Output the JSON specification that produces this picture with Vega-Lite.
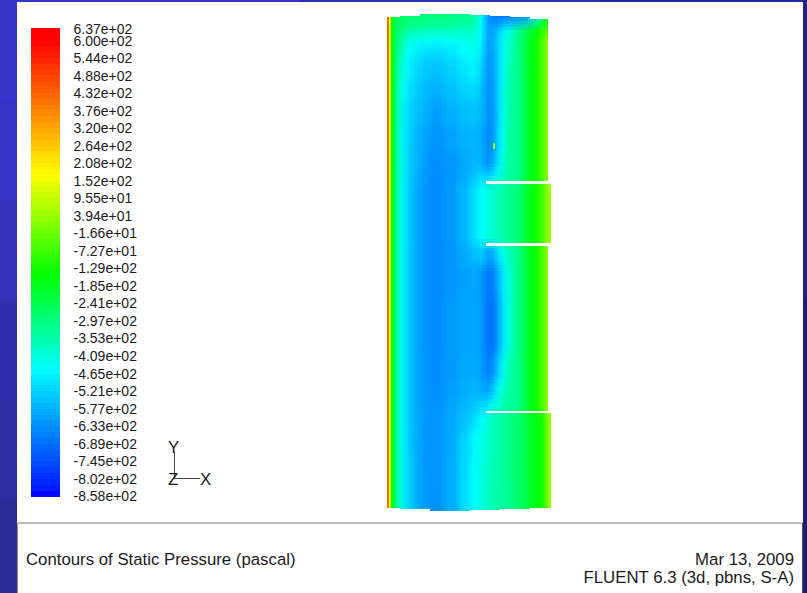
{"$schema":"https://vega.github.io/schema/vega-lite/v6.json","width":807,"height":593,"padding":0,"autosize":{"type":"none"},"background":"#ffffff","config":{"view":{"stroke":null}},
"datasets":{
"frame":[{"x":0,"x2":17,"y":0,"y2":100,"shade":"#3636cf"},{"x":0,"x2":17,"y":100,"y2":200,"shade":"#3434c6"},{"x":0,"x2":17,"y":200,"y2":300,"shade":"#3232ba"},{"x":0,"x2":17,"y":300,"y2":400,"shade":"#3030ae"},{"x":0,"x2":17,"y":400,"y2":500,"shade":"#2e2ea2"},{"x":0,"x2":17,"y":500,"y2":593,"shade":"#2b2b96"},{"x":17,"x2":300,"y":0,"y2":2,"shade":"#3434c4"},{"x":300,"x2":600,"y":0,"y2":2,"shade":"#2e2eb0"},{"x":600,"x2":807,"y":0,"y2":2,"shade":"#28289c"},{"x":803,"x2":807,"y":0,"y2":300,"shade":"#20208c"},{"x":803,"x2":807,"y":300,"y2":593,"shade":"#1a1a80"}],
"strip":[
{"x":31,"x2":60,"y":28,"y2":34,"p":637},{"x":31,"x2":60,"y":34,"y2":40,"p":620},{"x":31,"x2":60,"y":40,"y2":46,"p":602},{"x":31,"x2":60,"y":46,"y2":52,"p":583},{"x":31,"x2":60,"y":52,"y2":58,"p":565},{"x":31,"x2":60,"y":58,"y2":64,"p":546},{"x":31,"x2":60,"y":64,"y2":69,"p":527},{"x":31,"x2":60,"y":69,"y2":75,"p":509},{"x":31,"x2":60,"y":75,"y2":81,"p":490},{"x":31,"x2":60,"y":81,"y2":87,"p":472},{"x":31,"x2":60,"y":87,"y2":93,"p":453},{"x":31,"x2":60,"y":93,"y2":99,"p":434},{"x":31,"x2":60,"y":99,"y2":105,"p":416},{"x":31,"x2":60,"y":105,"y2":110,"p":397},{"x":31,"x2":60,"y":110,"y2":116,"p":379},{"x":31,"x2":60,"y":116,"y2":122,"p":360},{"x":31,"x2":60,"y":122,"y2":128,"p":341},{"x":31,"x2":60,"y":128,"y2":134,"p":323},{"x":31,"x2":60,"y":134,"y2":140,"p":304},{"x":31,"x2":60,"y":140,"y2":146,"p":286},{"x":31,"x2":60,"y":146,"y2":151,"p":267},{"x":31,"x2":60,"y":151,"y2":157,"p":248},{"x":31,"x2":60,"y":157,"y2":163,"p":230},{"x":31,"x2":60,"y":163,"y2":169,"p":211},{"x":31,"x2":60,"y":169,"y2":175,"p":193},{"x":31,"x2":60,"y":175,"y2":181,"p":174},{"x":31,"x2":60,"y":181,"y2":186,"p":155},{"x":31,"x2":60,"y":186,"y2":192,"p":137},{"x":31,"x2":60,"y":192,"y2":198,"p":118},{"x":31,"x2":60,"y":198,"y2":204,"p":100},{"x":31,"x2":60,"y":204,"y2":210,"p":81},{"x":31,"x2":60,"y":210,"y2":216,"p":62},{"x":31,"x2":60,"y":216,"y2":222,"p":44},{"x":31,"x2":60,"y":222,"y2":227,"p":25},{"x":31,"x2":60,"y":227,"y2":233,"p":7},{"x":31,"x2":60,"y":233,"y2":239,"p":-12},{"x":31,"x2":60,"y":239,"y2":245,"p":-31},{"x":31,"x2":60,"y":245,"y2":251,"p":-49},{"x":31,"x2":60,"y":251,"y2":257,"p":-68},{"x":31,"x2":60,"y":257,"y2":263,"p":-86},{"x":31,"x2":60,"y":263,"y2":268,"p":-105},{"x":31,"x2":60,"y":268,"y2":274,"p":-124},{"x":31,"x2":60,"y":274,"y2":280,"p":-142},{"x":31,"x2":60,"y":280,"y2":286,"p":-161},{"x":31,"x2":60,"y":286,"y2":292,"p":-179},{"x":31,"x2":60,"y":292,"y2":298,"p":-198},{"x":31,"x2":60,"y":298,"y2":303,"p":-217},{"x":31,"x2":60,"y":303,"y2":309,"p":-235},{"x":31,"x2":60,"y":309,"y2":315,"p":-254},{"x":31,"x2":60,"y":315,"y2":321,"p":-272},{"x":31,"x2":60,"y":321,"y2":327,"p":-291},{"x":31,"x2":60,"y":327,"y2":333,"p":-310},{"x":31,"x2":60,"y":333,"y2":339,"p":-328},{"x":31,"x2":60,"y":339,"y2":344,"p":-347},{"x":31,"x2":60,"y":344,"y2":350,"p":-365},{"x":31,"x2":60,"y":350,"y2":356,"p":-384},{"x":31,"x2":60,"y":356,"y2":362,"p":-403},{"x":31,"x2":60,"y":362,"y2":368,"p":-421},{"x":31,"x2":60,"y":368,"y2":374,"p":-440},{"x":31,"x2":60,"y":374,"y2":380,"p":-458},{"x":31,"x2":60,"y":380,"y2":385,"p":-477},{"x":31,"x2":60,"y":385,"y2":391,"p":-496},{"x":31,"x2":60,"y":391,"y2":397,"p":-514},{"x":31,"x2":60,"y":397,"y2":403,"p":-533},{"x":31,"x2":60,"y":403,"y2":409,"p":-551},{"x":31,"x2":60,"y":409,"y2":415,"p":-570},{"x":31,"x2":60,"y":415,"y2":420,"p":-589},{"x":31,"x2":60,"y":420,"y2":426,"p":-607},{"x":31,"x2":60,"y":426,"y2":432,"p":-626},{"x":31,"x2":60,"y":432,"y2":438,"p":-644},{"x":31,"x2":60,"y":438,"y2":444,"p":-663},{"x":31,"x2":60,"y":444,"y2":450,"p":-682},{"x":31,"x2":60,"y":450,"y2":456,"p":-700},{"x":31,"x2":60,"y":456,"y2":461,"p":-719},{"x":31,"x2":60,"y":461,"y2":467,"p":-737},{"x":31,"x2":60,"y":467,"y2":473,"p":-756},{"x":31,"x2":60,"y":473,"y2":479,"p":-775},{"x":31,"x2":60,"y":479,"y2":485,"p":-793},{"x":31,"x2":60,"y":485,"y2":491,"p":-812},{"x":31,"x2":60,"y":491,"y2":497,"p":-849},
{"x":387,"x2":389,"y":14,"y2":512,"p":430},{"x":389,"x2":390,"y":14,"y2":512,"p":200},{"x":390,"x2":391,"y":14,"y2":512,"p":60},{"x":391,"x2":393,"y":14,"y2":512,"p":-120},{"x":393,"x2":396,"y":14,"y2":512,"p":-220},
{"x":493,"x2":495,"y":143,"y2":149,"p":50}],
"core":[
{"x":512,"x2":520,"y":14,"y2":24,"p":-630},{"x":520,"x2":528,"y":14,"y2":24,"p":-600},{"x":528,"x2":536,"y":14,"y2":24,"p":-520},{"x":536,"x2":542,"y":14,"y2":24,"p":-350},{"x":542,"x2":551,"y":14,"y2":24,"p":-180},
{"x":512,"x2":520,"y":24,"y2":34,"p":-340},{"x":520,"x2":528,"y":24,"y2":34,"p":-270},{"x":528,"x2":536,"y":24,"y2":34,"p":-190},{"x":536,"x2":542,"y":24,"y2":34,"p":-130},{"x":542,"x2":551,"y":24,"y2":34,"p":-60},
{"x":512,"x2":520,"y":34,"y2":183,"p":-310},{"x":520,"x2":528,"y":34,"y2":183,"p":-235},{"x":528,"x2":536,"y":34,"y2":183,"p":-150},{"x":536,"x2":542,"y":34,"y2":183,"p":-95},{"x":542,"x2":546,"y":34,"y2":183,"p":-10},{"x":546,"x2":556,"y":34,"y2":183,"p":60},
{"x":512,"x2":520,"y":183,"y2":245,"p":-280},{"x":520,"x2":528,"y":183,"y2":245,"p":-225},{"x":528,"x2":536,"y":183,"y2":245,"p":-150},{"x":536,"x2":542,"y":183,"y2":245,"p":-95},{"x":542,"x2":546,"y":183,"y2":245,"p":-20},{"x":546,"x2":556,"y":183,"y2":245,"p":60},
{"x":512,"x2":520,"y":245,"y2":413,"p":-310},{"x":520,"x2":528,"y":245,"y2":413,"p":-235},{"x":528,"x2":536,"y":245,"y2":413,"p":-150},{"x":536,"x2":542,"y":245,"y2":413,"p":-95},{"x":542,"x2":546,"y":245,"y2":413,"p":-10},{"x":546,"x2":556,"y":245,"y2":413,"p":60},
{"x":512,"x2":520,"y":413,"y2":512,"p":-270},{"x":520,"x2":528,"y":413,"y2":512,"p":-235},{"x":528,"x2":536,"y":413,"y2":512,"p":-175},{"x":536,"x2":542,"y":413,"y2":512,"p":-140},{"x":542,"x2":546,"y":413,"y2":512,"p":-90},{"x":546,"x2":556,"y":413,"y2":512,"p":50},
{"x":396,"x2":400,"y":14,"y2":24,"p":-230},{"x":400,"x2":405,"y":14,"y2":24,"p":-250},{"x":405,"x2":412,"y":14,"y2":24,"p":-260},{"x":412,"x2":420,"y":14,"y2":24,"p":-270},{"x":420,"x2":430,"y":14,"y2":24,"p":-275},{"x":430,"x2":444,"y":14,"y2":24,"p":-280},{"x":444,"x2":458,"y":14,"y2":24,"p":-285},{"x":458,"x2":470,"y":14,"y2":24,"p":-300},{"x":470,"x2":478,"y":14,"y2":24,"p":-330},{"x":478,"x2":484,"y":14,"y2":24,"p":-420},{"x":484,"x2":488,"y":14,"y2":24,"p":-560},{"x":488,"x2":492,"y":14,"y2":24,"p":-620},{"x":492,"x2":496,"y":14,"y2":24,"p":-640},{"x":496,"x2":500,"y":14,"y2":24,"p":-650},{"x":500,"x2":505,"y":14,"y2":24,"p":-650},{"x":505,"x2":512,"y":14,"y2":24,"p":-640},
{"x":396,"x2":400,"y":24,"y2":34,"p":-240},{"x":400,"x2":405,"y":24,"y2":34,"p":-280},{"x":405,"x2":412,"y":24,"y2":34,"p":-310},{"x":412,"x2":420,"y":24,"y2":34,"p":-320},{"x":420,"x2":430,"y":24,"y2":34,"p":-330},{"x":430,"x2":444,"y":24,"y2":34,"p":-340},{"x":444,"x2":458,"y":24,"y2":34,"p":-340},{"x":458,"x2":470,"y":24,"y2":34,"p":-350},{"x":470,"x2":478,"y":24,"y2":34,"p":-370},{"x":478,"x2":484,"y":24,"y2":34,"p":-430},{"x":484,"x2":488,"y":24,"y2":34,"p":-570},{"x":488,"x2":492,"y":24,"y2":34,"p":-590},{"x":492,"x2":496,"y":24,"y2":34,"p":-570},{"x":496,"x2":500,"y":24,"y2":34,"p":-540},{"x":500,"x2":505,"y":24,"y2":34,"p":-480},{"x":505,"x2":512,"y":24,"y2":34,"p":-420},
{"x":396,"x2":400,"y":34,"y2":46,"p":-260},{"x":400,"x2":405,"y":34,"y2":46,"p":-330},{"x":405,"x2":412,"y":34,"y2":46,"p":-390},{"x":412,"x2":420,"y":34,"y2":46,"p":-410},{"x":420,"x2":430,"y":34,"y2":46,"p":-420},{"x":430,"x2":444,"y":34,"y2":46,"p":-430},{"x":444,"x2":458,"y":34,"y2":46,"p":-420},{"x":458,"x2":470,"y":34,"y2":46,"p":-410},{"x":470,"x2":478,"y":34,"y2":46,"p":-400},{"x":478,"x2":484,"y":34,"y2":46,"p":-440},{"x":484,"x2":488,"y":34,"y2":46,"p":-570},{"x":488,"x2":492,"y":34,"y2":46,"p":-590},{"x":492,"x2":496,"y":34,"y2":46,"p":-560},{"x":496,"x2":500,"y":34,"y2":46,"p":-510},{"x":500,"x2":505,"y":34,"y2":46,"p":-440},{"x":505,"x2":512,"y":34,"y2":46,"p":-380},
{"x":396,"x2":400,"y":46,"y2":60,"p":-280},{"x":400,"x2":405,"y":46,"y2":60,"p":-370},{"x":405,"x2":412,"y":46,"y2":60,"p":-430},{"x":412,"x2":420,"y":46,"y2":60,"p":-460},{"x":420,"x2":430,"y":46,"y2":60,"p":-480},{"x":430,"x2":444,"y":46,"y2":60,"p":-490},{"x":444,"x2":458,"y":46,"y2":60,"p":-470},{"x":458,"x2":470,"y":46,"y2":60,"p":-430},{"x":470,"x2":478,"y":46,"y2":60,"p":-420},{"x":478,"x2":484,"y":46,"y2":60,"p":-470},{"x":484,"x2":488,"y":46,"y2":60,"p":-580},{"x":488,"x2":492,"y":46,"y2":60,"p":-600},{"x":492,"x2":496,"y":46,"y2":60,"p":-570},{"x":496,"x2":500,"y":46,"y2":60,"p":-515},{"x":500,"x2":505,"y":46,"y2":60,"p":-445},{"x":505,"x2":512,"y":46,"y2":60,"p":-370},
{"x":396,"x2":400,"y":60,"y2":80,"p":-300},{"x":400,"x2":405,"y":60,"y2":80,"p":-400},{"x":405,"x2":412,"y":60,"y2":80,"p":-450},{"x":412,"x2":420,"y":60,"y2":80,"p":-490},{"x":420,"x2":430,"y":60,"y2":80,"p":-520},{"x":430,"x2":444,"y":60,"y2":80,"p":-530},{"x":444,"x2":458,"y":60,"y2":80,"p":-510},{"x":458,"x2":470,"y":60,"y2":80,"p":-470},{"x":470,"x2":478,"y":60,"y2":80,"p":-450},{"x":478,"x2":484,"y":60,"y2":80,"p":-500},{"x":484,"x2":488,"y":60,"y2":80,"p":-600},{"x":488,"x2":492,"y":60,"y2":80,"p":-610},{"x":492,"x2":496,"y":60,"y2":80,"p":-580},{"x":496,"x2":500,"y":60,"y2":80,"p":-515},{"x":500,"x2":505,"y":60,"y2":80,"p":-440},{"x":505,"x2":512,"y":60,"y2":80,"p":-355},
{"x":396,"x2":400,"y":80,"y2":100,"p":-310},{"x":400,"x2":405,"y":80,"y2":100,"p":-430},{"x":405,"x2":412,"y":80,"y2":100,"p":-470},{"x":412,"x2":420,"y":80,"y2":100,"p":-510},{"x":420,"x2":430,"y":80,"y2":100,"p":-545},{"x":430,"x2":444,"y":80,"y2":100,"p":-560},{"x":444,"x2":458,"y":80,"y2":100,"p":-535},{"x":458,"x2":470,"y":80,"y2":100,"p":-505},{"x":470,"x2":478,"y":80,"y2":100,"p":-490},{"x":478,"x2":484,"y":80,"y2":100,"p":-530},{"x":484,"x2":488,"y":80,"y2":100,"p":-600},{"x":488,"x2":492,"y":80,"y2":100,"p":-615},{"x":492,"x2":496,"y":80,"y2":100,"p":-585},{"x":496,"x2":500,"y":80,"y2":100,"p":-515},{"x":500,"x2":505,"y":80,"y2":100,"p":-435},{"x":505,"x2":512,"y":80,"y2":100,"p":-345},
{"x":396,"x2":400,"y":100,"y2":125,"p":-320},{"x":400,"x2":405,"y":100,"y2":125,"p":-440},{"x":405,"x2":412,"y":100,"y2":125,"p":-490},{"x":412,"x2":420,"y":100,"y2":125,"p":-530},{"x":420,"x2":430,"y":100,"y2":125,"p":-560},{"x":430,"x2":444,"y":100,"y2":125,"p":-590},{"x":444,"x2":458,"y":100,"y2":125,"p":-560},{"x":458,"x2":470,"y":100,"y2":125,"p":-535},{"x":470,"x2":478,"y":100,"y2":125,"p":-525},{"x":478,"x2":484,"y":100,"y2":125,"p":-550},{"x":484,"x2":488,"y":100,"y2":125,"p":-590},{"x":488,"x2":492,"y":100,"y2":125,"p":-620},{"x":492,"x2":496,"y":100,"y2":125,"p":-590},{"x":496,"x2":500,"y":100,"y2":125,"p":-510},{"x":500,"x2":505,"y":100,"y2":125,"p":-435},{"x":505,"x2":512,"y":100,"y2":125,"p":-340},
{"x":396,"x2":400,"y":125,"y2":150,"p":-320},{"x":400,"x2":405,"y":125,"y2":150,"p":-440},{"x":405,"x2":412,"y":125,"y2":150,"p":-500},{"x":412,"x2":420,"y":125,"y2":150,"p":-545},{"x":420,"x2":430,"y":125,"y2":150,"p":-580},{"x":430,"x2":444,"y":125,"y2":150,"p":-605},{"x":444,"x2":458,"y":125,"y2":150,"p":-585},{"x":458,"x2":470,"y":125,"y2":150,"p":-560},{"x":470,"x2":478,"y":125,"y2":150,"p":-550},{"x":478,"x2":484,"y":125,"y2":150,"p":-570},{"x":484,"x2":488,"y":125,"y2":150,"p":-610},{"x":488,"x2":492,"y":125,"y2":150,"p":-630},{"x":492,"x2":496,"y":125,"y2":150,"p":-590},{"x":496,"x2":500,"y":125,"y2":150,"p":-505},{"x":500,"x2":505,"y":125,"y2":150,"p":-430},{"x":505,"x2":512,"y":125,"y2":150,"p":-335},
{"x":396,"x2":400,"y":150,"y2":170,"p":-320},{"x":400,"x2":405,"y":150,"y2":170,"p":-440},{"x":405,"x2":412,"y":150,"y2":170,"p":-505},{"x":412,"x2":420,"y":150,"y2":170,"p":-550},{"x":420,"x2":430,"y":150,"y2":170,"p":-590},{"x":430,"x2":444,"y":150,"y2":170,"p":-615},{"x":444,"x2":458,"y":150,"y2":170,"p":-600},{"x":458,"x2":470,"y":150,"y2":170,"p":-575},{"x":470,"x2":478,"y":150,"y2":170,"p":-550},{"x":478,"x2":484,"y":150,"y2":170,"p":-555},{"x":484,"x2":488,"y":150,"y2":170,"p":-610},{"x":488,"x2":492,"y":150,"y2":170,"p":-620},{"x":492,"x2":496,"y":150,"y2":170,"p":-560},{"x":496,"x2":500,"y":150,"y2":170,"p":-480},{"x":500,"x2":505,"y":150,"y2":170,"p":-410},{"x":505,"x2":512,"y":150,"y2":170,"p":-325},
{"x":396,"x2":400,"y":170,"y2":183,"p":-320},{"x":400,"x2":405,"y":170,"y2":183,"p":-440},{"x":405,"x2":412,"y":170,"y2":183,"p":-505},{"x":412,"x2":420,"y":170,"y2":183,"p":-555},{"x":420,"x2":430,"y":170,"y2":183,"p":-595},{"x":430,"x2":444,"y":170,"y2":183,"p":-620},{"x":444,"x2":458,"y":170,"y2":183,"p":-605},{"x":458,"x2":470,"y":170,"y2":183,"p":-570},{"x":470,"x2":478,"y":170,"y2":183,"p":-530},{"x":478,"x2":484,"y":170,"y2":183,"p":-490},{"x":484,"x2":488,"y":170,"y2":183,"p":-520},{"x":488,"x2":492,"y":170,"y2":183,"p":-500},{"x":492,"x2":496,"y":170,"y2":183,"p":-440},{"x":496,"x2":500,"y":170,"y2":183,"p":-400},{"x":500,"x2":505,"y":170,"y2":183,"p":-370},{"x":505,"x2":512,"y":170,"y2":183,"p":-320},
{"x":396,"x2":400,"y":183,"y2":245,"p":-320},{"x":400,"x2":405,"y":183,"y2":245,"p":-440},{"x":405,"x2":412,"y":183,"y2":245,"p":-505},{"x":412,"x2":420,"y":183,"y2":245,"p":-565},{"x":420,"x2":430,"y":183,"y2":245,"p":-605},{"x":430,"x2":444,"y":183,"y2":245,"p":-625},{"x":444,"x2":458,"y":183,"y2":245,"p":-600},{"x":458,"x2":470,"y":183,"y2":245,"p":-550},{"x":470,"x2":478,"y":183,"y2":245,"p":-485},{"x":478,"x2":484,"y":183,"y2":245,"p":-432},{"x":484,"x2":488,"y":183,"y2":245,"p":-405},{"x":488,"x2":492,"y":183,"y2":245,"p":-385},{"x":492,"x2":496,"y":183,"y2":245,"p":-370},{"x":496,"x2":500,"y":183,"y2":245,"p":-352},{"x":500,"x2":505,"y":183,"y2":245,"p":-337},{"x":505,"x2":512,"y":183,"y2":245,"p":-310},
{"x":396,"x2":400,"y":245,"y2":265,"p":-320},{"x":400,"x2":405,"y":245,"y2":265,"p":-440},{"x":405,"x2":412,"y":245,"y2":265,"p":-510},{"x":412,"x2":420,"y":245,"y2":265,"p":-565},{"x":420,"x2":430,"y":245,"y2":265,"p":-605},{"x":430,"x2":444,"y":245,"y2":265,"p":-625},{"x":444,"x2":458,"y":245,"y2":265,"p":-605},{"x":458,"x2":470,"y":245,"y2":265,"p":-570},{"x":470,"x2":478,"y":245,"y2":265,"p":-540},{"x":478,"x2":484,"y":245,"y2":265,"p":-520},{"x":484,"x2":488,"y":245,"y2":265,"p":-560},{"x":488,"x2":492,"y":245,"y2":265,"p":-590},{"x":492,"x2":496,"y":245,"y2":265,"p":-550},{"x":496,"x2":500,"y":245,"y2":265,"p":-490},{"x":500,"x2":505,"y":245,"y2":265,"p":-430},{"x":505,"x2":512,"y":245,"y2":265,"p":-360},
{"x":396,"x2":400,"y":265,"y2":295,"p":-320},{"x":400,"x2":405,"y":265,"y2":295,"p":-440},{"x":405,"x2":412,"y":265,"y2":295,"p":-510},{"x":412,"x2":420,"y":265,"y2":295,"p":-565},{"x":420,"x2":430,"y":265,"y2":295,"p":-605},{"x":430,"x2":444,"y":265,"y2":295,"p":-625},{"x":444,"x2":458,"y":265,"y2":295,"p":-605},{"x":458,"x2":470,"y":265,"y2":295,"p":-585},{"x":470,"x2":478,"y":265,"y2":295,"p":-575},{"x":478,"x2":484,"y":265,"y2":295,"p":-595},{"x":484,"x2":488,"y":265,"y2":295,"p":-640},{"x":488,"x2":492,"y":265,"y2":295,"p":-665},{"x":492,"x2":496,"y":265,"y2":295,"p":-630},{"x":496,"x2":500,"y":265,"y2":295,"p":-570},{"x":500,"x2":505,"y":265,"y2":295,"p":-480},{"x":505,"x2":512,"y":265,"y2":295,"p":-395},
{"x":396,"x2":400,"y":295,"y2":355,"p":-320},{"x":400,"x2":405,"y":295,"y2":355,"p":-440},{"x":405,"x2":412,"y":295,"y2":355,"p":-510},{"x":412,"x2":420,"y":295,"y2":355,"p":-565},{"x":420,"x2":430,"y":295,"y2":355,"p":-605},{"x":430,"x2":444,"y":295,"y2":355,"p":-625},{"x":444,"x2":458,"y":295,"y2":355,"p":-600},{"x":458,"x2":470,"y":295,"y2":355,"p":-582},{"x":470,"x2":478,"y":295,"y2":355,"p":-580},{"x":478,"x2":484,"y":295,"y2":355,"p":-600},{"x":484,"x2":488,"y":295,"y2":355,"p":-645},{"x":488,"x2":492,"y":295,"y2":355,"p":-678},{"x":492,"x2":496,"y":295,"y2":355,"p":-650},{"x":496,"x2":500,"y":295,"y2":355,"p":-590},{"x":500,"x2":505,"y":295,"y2":355,"p":-490},{"x":505,"x2":512,"y":295,"y2":355,"p":-400},
{"x":396,"x2":400,"y":355,"y2":380,"p":-320},{"x":400,"x2":405,"y":355,"y2":380,"p":-440},{"x":405,"x2":412,"y":355,"y2":380,"p":-510},{"x":412,"x2":420,"y":355,"y2":380,"p":-570},{"x":420,"x2":430,"y":355,"y2":380,"p":-605},{"x":430,"x2":444,"y":355,"y2":380,"p":-620},{"x":444,"x2":458,"y":355,"y2":380,"p":-595},{"x":458,"x2":470,"y":355,"y2":380,"p":-575},{"x":470,"x2":478,"y":355,"y2":380,"p":-570},{"x":478,"x2":484,"y":355,"y2":380,"p":-590},{"x":484,"x2":488,"y":355,"y2":380,"p":-630},{"x":488,"x2":492,"y":355,"y2":380,"p":-650},{"x":492,"x2":496,"y":355,"y2":380,"p":-600},{"x":496,"x2":500,"y":355,"y2":380,"p":-520},{"x":500,"x2":505,"y":355,"y2":380,"p":-440},{"x":505,"x2":512,"y":355,"y2":380,"p":-355},
{"x":396,"x2":400,"y":380,"y2":398,"p":-320},{"x":400,"x2":405,"y":380,"y2":398,"p":-440},{"x":405,"x2":412,"y":380,"y2":398,"p":-510},{"x":412,"x2":420,"y":380,"y2":398,"p":-570},{"x":420,"x2":430,"y":380,"y2":398,"p":-605},{"x":430,"x2":444,"y":380,"y2":398,"p":-615},{"x":444,"x2":458,"y":380,"y2":398,"p":-590},{"x":458,"x2":470,"y":380,"y2":398,"p":-565},{"x":470,"x2":478,"y":380,"y2":398,"p":-550},{"x":478,"x2":484,"y":380,"y2":398,"p":-565},{"x":484,"x2":488,"y":380,"y2":398,"p":-590},{"x":488,"x2":492,"y":380,"y2":398,"p":-580},{"x":492,"x2":496,"y":380,"y2":398,"p":-510},{"x":496,"x2":500,"y":380,"y2":398,"p":-440},{"x":500,"x2":505,"y":380,"y2":398,"p":-385},{"x":505,"x2":512,"y":380,"y2":398,"p":-330},
{"x":396,"x2":400,"y":398,"y2":413,"p":-320},{"x":400,"x2":405,"y":398,"y2":413,"p":-440},{"x":405,"x2":412,"y":398,"y2":413,"p":-510},{"x":412,"x2":420,"y":398,"y2":413,"p":-570},{"x":420,"x2":430,"y":398,"y2":413,"p":-600},{"x":430,"x2":444,"y":398,"y2":413,"p":-610},{"x":444,"x2":458,"y":398,"y2":413,"p":-580},{"x":458,"x2":470,"y":398,"y2":413,"p":-550},{"x":470,"x2":478,"y":398,"y2":413,"p":-525},{"x":478,"x2":484,"y":398,"y2":413,"p":-500},{"x":484,"x2":488,"y":398,"y2":413,"p":-495},{"x":488,"x2":492,"y":398,"y2":413,"p":-450},{"x":492,"x2":496,"y":398,"y2":413,"p":-405},{"x":496,"x2":500,"y":398,"y2":413,"p":-375},{"x":500,"x2":505,"y":398,"y2":413,"p":-350},{"x":505,"x2":512,"y":398,"y2":413,"p":-315},
{"x":396,"x2":400,"y":413,"y2":430,"p":-320},{"x":400,"x2":405,"y":413,"y2":430,"p":-440},{"x":405,"x2":412,"y":413,"y2":430,"p":-510},{"x":412,"x2":420,"y":413,"y2":430,"p":-570},{"x":420,"x2":430,"y":413,"y2":430,"p":-600},{"x":430,"x2":444,"y":413,"y2":430,"p":-605},{"x":444,"x2":458,"y":413,"y2":430,"p":-575},{"x":458,"x2":470,"y":413,"y2":430,"p":-530},{"x":470,"x2":478,"y":413,"y2":430,"p":-485},{"x":478,"x2":484,"y":413,"y2":430,"p":-432},{"x":484,"x2":488,"y":413,"y2":430,"p":-395},{"x":488,"x2":492,"y":413,"y2":430,"p":-370},{"x":492,"x2":496,"y":413,"y2":430,"p":-350},{"x":496,"x2":500,"y":413,"y2":430,"p":-335},{"x":500,"x2":505,"y":413,"y2":430,"p":-320},{"x":505,"x2":512,"y":413,"y2":430,"p":-300},
{"x":396,"x2":400,"y":430,"y2":455,"p":-320},{"x":400,"x2":405,"y":430,"y2":455,"p":-440},{"x":405,"x2":412,"y":430,"y2":455,"p":-505},{"x":412,"x2":420,"y":430,"y2":455,"p":-565},{"x":420,"x2":430,"y":430,"y2":455,"p":-600},{"x":430,"x2":444,"y":430,"y2":455,"p":-605},{"x":444,"x2":458,"y":430,"y2":455,"p":-570},{"x":458,"x2":470,"y":430,"y2":455,"p":-505},{"x":470,"x2":478,"y":430,"y2":455,"p":-440},{"x":478,"x2":484,"y":430,"y2":455,"p":-410},{"x":484,"x2":488,"y":430,"y2":455,"p":-385},{"x":488,"x2":492,"y":430,"y2":455,"p":-368},{"x":492,"x2":496,"y":430,"y2":455,"p":-350},{"x":496,"x2":500,"y":430,"y2":455,"p":-335},{"x":500,"x2":505,"y":430,"y2":455,"p":-320},{"x":505,"x2":512,"y":430,"y2":455,"p":-300},
{"x":396,"x2":400,"y":455,"y2":480,"p":-320},{"x":400,"x2":405,"y":455,"y2":480,"p":-440},{"x":405,"x2":412,"y":455,"y2":480,"p":-500},{"x":412,"x2":420,"y":455,"y2":480,"p":-560},{"x":420,"x2":430,"y":455,"y2":480,"p":-600},{"x":430,"x2":444,"y":455,"y2":480,"p":-605},{"x":444,"x2":458,"y":455,"y2":480,"p":-565},{"x":458,"x2":470,"y":455,"y2":480,"p":-495},{"x":470,"x2":478,"y":455,"y2":480,"p":-435},{"x":478,"x2":484,"y":455,"y2":480,"p":-400},{"x":484,"x2":488,"y":455,"y2":480,"p":-375},{"x":488,"x2":492,"y":455,"y2":480,"p":-355},{"x":492,"x2":496,"y":455,"y2":480,"p":-345},{"x":496,"x2":500,"y":455,"y2":480,"p":-332},{"x":500,"x2":505,"y":455,"y2":480,"p":-318},{"x":505,"x2":512,"y":455,"y2":480,"p":-300},
{"x":396,"x2":400,"y":480,"y2":512,"p":-320},{"x":400,"x2":405,"y":480,"y2":512,"p":-440},{"x":405,"x2":412,"y":480,"y2":512,"p":-500},{"x":412,"x2":420,"y":480,"y2":512,"p":-560},{"x":420,"x2":430,"y":480,"y2":512,"p":-600},{"x":430,"x2":444,"y":480,"y2":512,"p":-610},{"x":444,"x2":458,"y":480,"y2":512,"p":-565},{"x":458,"x2":470,"y":480,"y2":512,"p":-490},{"x":470,"x2":478,"y":480,"y2":512,"p":-432},{"x":478,"x2":484,"y":480,"y2":512,"p":-400},{"x":484,"x2":488,"y":480,"y2":512,"p":-370},{"x":488,"x2":492,"y":480,"y2":512,"p":-350},{"x":492,"x2":496,"y":480,"y2":512,"p":-340},{"x":496,"x2":500,"y":480,"y2":512,"p":-330},{"x":500,"x2":505,"y":480,"y2":512,"p":-320},{"x":505,"x2":512,"y":480,"y2":512,"p":-305}],
"mask":[{"x":385,"x2":400,"y":4,"y2":17},{"x":400,"x2":420,"y":4,"y2":16},{"x":420,"x2":470,"y":4,"y2":14},{"x":470,"x2":490,"y":4,"y2":15},{"x":490,"x2":510,"y":4,"y2":16},{"x":510,"x2":530,"y":4,"y2":17},{"x":530,"x2":562,"y":4,"y2":19},{"x":385,"x2":400,"y":508,"y2":521},{"x":400,"x2":430,"y":509,"y2":521},{"x":430,"x2":470,"y":511,"y2":521},{"x":470,"x2":500,"y":510,"y2":521},{"x":500,"x2":530,"y":509,"y2":521},{"x":530,"x2":562,"y":508,"y2":521},{"x":548,"x2":562,"y":14,"y2":183},{"x":551,"x2":562,"y":183,"y2":244},{"x":548,"x2":562,"y":244,"y2":411},{"x":551,"x2":562,"y":411,"y2":512},{"x":486,"x2":562,"y":181,"y2":184},{"x":486,"x2":562,"y":243,"y2":246},{"x":486,"x2":562,"y":411,"y2":413}],
"rules":[{"x":18,"y":523,"x2":803,"y2":523,"shade":"#777777"},{"x":17.5,"y":523,"x2":17.5,"y2":593,"shade":"#999999"},{"x":802.5,"y":523,"x2":802.5,"y2":593,"shade":"#555555"},{"x":174.5,"y":452,"x2":174.5,"y2":479,"shade":"#444444"},{"x":174.5,"y":478.5,"x2":200,"y2":478.5,"shade":"#444444"}],
"labels":[{"x":73.5,"y":30,"t":"6.37e+02"},{"x":73.5,"y":41.5,"t":"6.00e+02"},{"x":73.5,"y":59,"t":"5.44e+02"},{"x":73.5,"y":76.5,"t":"4.88e+02"},{"x":73.5,"y":94,"t":"4.32e+02"},{"x":73.5,"y":111.5,"t":"3.76e+02"},{"x":73.5,"y":129,"t":"3.20e+02"},{"x":73.5,"y":146.5,"t":"2.64e+02"},{"x":73.5,"y":164,"t":"2.08e+02"},{"x":73.5,"y":181.5,"t":"1.52e+02"},{"x":73.5,"y":199,"t":"9.55e+01"},{"x":73.5,"y":216.5,"t":"3.94e+01"},{"x":73.5,"y":234,"t":"-1.66e+01"},{"x":73.5,"y":251.5,"t":"-7.27e+01"},{"x":73.5,"y":269,"t":"-1.29e+02"},{"x":73.5,"y":286.5,"t":"-1.85e+02"},{"x":73.5,"y":304,"t":"-2.41e+02"},{"x":73.5,"y":321.5,"t":"-2.97e+02"},{"x":73.5,"y":339,"t":"-3.53e+02"},{"x":73.5,"y":357,"t":"-4.09e+02"},{"x":73.5,"y":374.5,"t":"-4.65e+02"},{"x":73.5,"y":392,"t":"-5.21e+02"},{"x":73.5,"y":409.5,"t":"-5.77e+02"},{"x":73.5,"y":427,"t":"-6.33e+02"},{"x":73.5,"y":444.5,"t":"-6.89e+02"},{"x":73.5,"y":462,"t":"-7.45e+02"},{"x":73.5,"y":479.5,"t":"-8.02e+02"},{"x":73.5,"y":497,"t":"-8.58e+02"}],
"bigleft":[{"x":26,"y":559.5,"t":"Contours of Static Pressure (pascal)"},{"x":168,"y":447.5,"t":"Y"},{"x":168,"y":479.5,"t":"Z"},{"x":200,"y":479.5,"t":"X"}],
"bigright":[{"x":794,"y":559.5,"t":"Mar 13, 2009"},{"x":794,"y":578,"t":"FLUENT 6.3 (3d, pbns, S-A)"}]
},
"encoding":{"x":{"field":"x","type":"quantitative","axis":null,"scale":{"domain":[0,807],"nice":false,"zero":false}},"y":{"field":"y","type":"quantitative","axis":null,"scale":{"domain":[0,593],"reverse":true,"nice":false,"zero":false}}},
"layer":[
{"data":{"name":"frame"},"mark":{"type":"rect"},"encoding":{"x2":{"field":"x2"},"y2":{"field":"y2"},"color":{"field":"shade","type":"nominal","scale":null,"legend":null}}},
{"data":{"name":"core"},"mark":{"type":"rect"},"encoding":{"x2":{"field":"x2"},"y2":{"field":"y2"},"fill":{"field":"p","type":"quantitative","legend":null,"scale":{"domain":[-858,-432,-136,182,611],"range":["#0000ff","#00ffff","#00ff00","#ffff00","#ff0000"],"interpolate":"rgb","clamp":true}}}},
{"data":{"name":"core"},"mark":{"type":"rect","opacity":0.5,"xOffset":2,"x2Offset":2,"yOffset":6,"y2Offset":6},"encoding":{"x2":{"field":"x2"},"y2":{"field":"y2"},"fill":{"field":"p","type":"quantitative","legend":null}}},
{"data":{"name":"core"},"mark":{"type":"rect","opacity":0.333,"xOffset":-2,"x2Offset":-2,"yOffset":-6,"y2Offset":-6},"encoding":{"x2":{"field":"x2"},"y2":{"field":"y2"},"fill":{"field":"p","type":"quantitative","legend":null}}},
{"data":{"name":"core"},"mark":{"type":"rect","opacity":0.25,"xOffset":3,"x2Offset":3,"yOffset":-3,"y2Offset":-3},"encoding":{"x2":{"field":"x2"},"y2":{"field":"y2"},"fill":{"field":"p","type":"quantitative","legend":null}}},
{"data":{"name":"core"},"mark":{"type":"rect","opacity":0.2,"xOffset":-3,"x2Offset":-3,"yOffset":3,"y2Offset":3},"encoding":{"x2":{"field":"x2"},"y2":{"field":"y2"},"fill":{"field":"p","type":"quantitative","legend":null}}},
{"data":{"name":"strip"},"mark":{"type":"rect"},"encoding":{"x2":{"field":"x2"},"y2":{"field":"y2"},"fill":{"field":"p","type":"quantitative","legend":null}}},
{"data":{"name":"mask"},"mark":{"type":"rect","color":"#ffffff"},"encoding":{"x2":{"field":"x2"},"y2":{"field":"y2"}}},
{"data":{"name":"rules"},"mark":{"type":"rule","strokeWidth":1},"encoding":{"x2":{"field":"x2"},"y2":{"field":"y2"},"color":{"field":"shade","type":"nominal","scale":null,"legend":null}}},
{"data":{"name":"labels"},"mark":{"type":"text","font":"Liberation Sans","fontSize":14,"align":"left","baseline":"middle","color":"#1a1a1a"},"encoding":{"text":{"field":"t","type":"nominal"}}},
{"data":{"name":"bigleft"},"mark":{"type":"text","font":"Liberation Sans","fontSize":16.8,"align":"left","baseline":"middle","color":"#1a1a1a"},"encoding":{"text":{"field":"t","type":"nominal"}}},
{"data":{"name":"bigright"},"mark":{"type":"text","font":"Liberation Sans","fontSize":16.8,"align":"right","baseline":"middle","color":"#1a1a1a"},"encoding":{"text":{"field":"t","type":"nominal"}}}
]}
